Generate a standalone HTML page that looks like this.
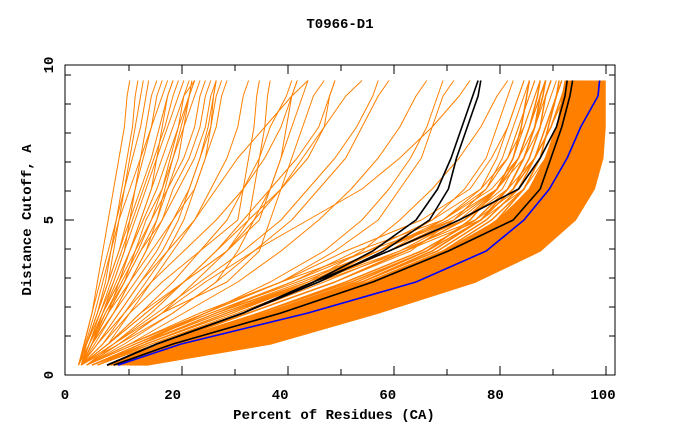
<!DOCTYPE html>
<html><head><meta charset="utf-8"><style>
body{margin:0;background:#fff}
svg{display:block}
text{font-family:"Liberation Mono",monospace;font-weight:bold;font-size:14px;fill:#000}
</style></head><body>
<svg id="chart" width="680" height="440">
<text x="340" y="28" text-anchor="middle">T0966-D1</text>
<text x="334" y="419" text-anchor="middle">Percent of Residues (CA)</text>
<text transform="translate(31,220) rotate(-90)" text-anchor="middle">Distance Cutoff, A</text>
<g id="plot"></g>
</svg>
<script>
const levels=[0.32,1,2,3,4,5,6,7,8,9,9.5];
const xTicks=[0,20,40,60,80,100];
const yTicks=[0,5,10];
const bandLowerEdge=[15,38,58,76,88,94.5,98,99.6,100,100,100];
const bandUpperEdge=[8,19,38,56,70,80,86,89,91,92,92.5];
const orangeCurves=[
[15,38,58,76,88,94.5,98,99.6,100,100,100],
[10.3,23,46.2,66.1,79,86,90.5,93.7,96,98.8,99.1],[10.8,24.6,47.4,67.2,80,86.9,91.4,94.3,96.4,99,99.2],
[11.4,26.2,48.6,68.3,81,87.9,92.2,95,96.9,99.1,99.3],[11.9,27.7,49.8,69.4,82,88.8,93,95.6,97.3,99.2,99.4],
[12.4,29.3,51,70.5,83,89.8,93.9,96.3,97.8,99.4,99.5],[12.9,30.8,52.2,71.6,84,90.7,94.7,97,98.2,99.5,99.6],
[13.4,32.4,53.4,72.7,85,91.7,95.5,97.6,98.7,99.6,99.7],[14,34,54.6,73.8,86,92.6,96.3,98.3,99.1,99.7,99.8],
[14.5,35.5,55.8,74.9,87,93.6,97.2,98.9,99.6,99.9,99.9],
[9.5,21,43,62,75,83,88,91.5,94,96,97],[9,20,41,60,73,82,87,90.5,93,95,96],
[9,20,40,58,71,80.5,86,89,91,93,94],[9.5,21,42,60,73,82,86.5,89.5,92,94,95],
[9,21,42,61,74,83,87.5,91,93.5,95.5,96.5],[8.5,20,41,59,72,81,86,89.5,92.5,94.5,95.5],
[9,20,38,55,68,77,83,86,88,89,90],[8,19,36,52,66,76,82,85,87,88,89],[8,18,34,50,63,74,80,84,86,87.5,88],
[10,20,40,58,72,80,85,88,89.5,91,91.5],[9,19,37,54,67,75,80,83,84.5,85.5,86],
[8,18,36,53,67,77,83,87,90,92,93],[8.5,19,38,56,70,79,85,88,91,93,94.5],
[8,19,37,55,69,78,84,87,89,91,92],[8.5,19,38,55,68,77,82,85,87,88.5,89],
[5,14,29,46,62,76,84,88,91,93,94],[5,14,28,45,60,74,82,87,90,92.5,93.5],
[5,15,30,47,63,77,85,89,92,94,95],[5,14,28,44,58,71,80,85,88,90,91],
[5,15,30,45,55,62,68,73,77,80,82],[5,16,32,47,60,70,77,80,82,84,85],[6,17,34,50,64,72,78,81,83,85,86],
[4,13,26,40,52,66,75,79,82,84,85],[5,14,28,42,54,70,78,82,84,86,87],[6,15,30,46,60,74,81,84,86,88,89],
[5,15,31,46,58,68,74,78,80,82,83],[6,16,33,48,62,73,80,83,85,87,88],
[4,12,26,40,56,72,80,84,86,88,89],[4,13,27,43,58,72,78,82,84,86,87],
[5,14,29,45,58,70,79,84,87,89,90],[5,15,31,46,60,72,80,84,86,88,89],[4,13,27,42,56,68,77,82,85,87,88],
[4,10,18,26,35,45,55,62,68,73,75],[4,12,22,32,40,47,53,58,62,65,67],[3,10,18,24,30,35,40,44,48,52,55],
[4,11,20,28,35,42,47,52,55,58,60],[4,12,25,40,50,58,62,66,68,70,72],[5,14,26,38,48,55,60,64,67,69,70],
[3,8,14,20,25,30,33,36,38,41,42],[3,9,16,22,28,34,40,45,48,49,50],[3,8,12,16,20,24,28,32,37,42,45],
[3,7,11,16,22,28,33,37,40,42,43],[3,9,18,30,36,38,40,42,44,46,48],[3,8,15,22,30,36,38,40,41,42,43],
[3,8,14,22,30,34,35,36,37,37.5,38],[3,7,12,18,25,32,33,34,35,35.5,36],[3,6,10,14,19,24,27,30,32,33,34],
[3,8,15,22,28,33,38,43,47,49,50],[4,10,20,28,32,35,38,40,42,44,45],[4,9,17,25,33,40,45,50,54,57,58],
[2.5,4,6,8,9,10,11,12,13,14,14.5],[2.5,4.5,7,9,11,13,15,17,19,21,22],[3,5,8,11,13,15,18,20,22,24,25],
[3,5.5,9,12,15,18,20,23,25,26,27],[2.5,3.5,5,6,7,8,9,10,11,11.5,12],[3,4,6,7.5,8.5,9.5,10.5,11.5,12.5,13,13.5],
[3,5,7,10,12,14,16,18,20,22,24],[3,4.5,7,10,13,16,19,22,24,25,26],[3,5,8,11,14,18,21,24,26,27,28],
[2.5,4,6.5,9,11,12,13,14,15,16,17],[3,5,8,10,12,14,16,17,18,19,20],[3,4.5,7.5,11,14,17,19,21,22,23,24],
[3,5,9,13,17,20,23,25,27,28,29],[3,6,11,15,19,22,24,26,28,29,30],[3,5,8,12,16,20,24,26,27,27.5,28],
[2.5,4,6,8,10,11.5,13,14.5,16,17,18],[3,4.5,7,9.5,12,14.5,17,19,21,23,23.5],[3,5,7.5,10.5,13.5,16,18,19.5,21,22,23],
[3,6,10,14,18,21,23,25,26.5,27.5,28],[2.5,3.8,5.5,7,8.5,10,12,14,16,18,19],[3,5,9,12,15,17,18.5,20,21.5,23,24],
[2.5,4,6,8,10,12,14,16,17.5,19,20],[3,4.5,6.5,8.5,10.5,12.5,14.5,16.5,18.5,20,21],[2.5,3.6,5,6.5,8,9.5,11,12.5,14,15,15.5]
];
const blackCurves=[
[7.8,17,33,46,60,73,84,88,91,92.6,93],[9,20,40,57,71,83,88,90,92,93.5,94],
[7.8,17,33,46,57,65,69,71.5,73.5,75.5,76.5],[7.8,17,33,47,59,67.5,71,72.5,74.5,76.5,77]
];
const blueCurve=[9.8,21.5,45,65,78,85,89.7,93,95.5,98.7,99];

const NS="http://www.w3.org/2000/svg";
const L=65,R=615,T=65,B=375;
const xs=v=>65+v*5.4;
const ys=v=>375-v*31;
const svg=document.getElementById('plot');
function mk(tag,at){const e=document.createElementNS(NS,tag);for(const k in at)e.setAttribute(k,at[k]);svg.appendChild(e);return e;}
function curve(arr,color,w,name){
  const d=arr.map((x,i)=>(i?'L':'M')+xs(x).toFixed(1)+','+ys(levels[i]).toFixed(1)).join(' ');
  const p=mk('path',{d:d,fill:'none',stroke:color,'stroke-width':w,'stroke-linejoin':'round'});
  
  
}
function bandPoly(a,b){
  return a.map((x,i)=>xs(x).toFixed(1)+','+ys(levels[i]).toFixed(1))
   .concat(b.map((x,i)=>xs(x).toFixed(1)+','+ys(levels[i]).toFixed(1)).reverse()).join(' ');
}
const band=mk('polygon',{points:bandPoly(blueCurve,bandLowerEdge),fill:'#ff8000',stroke:'none'});


const band2=mk('polygon',{points:bandPoly(bandUpperEdge,blueCurve),fill:'#ff8000',stroke:'none'});


orangeCurves.forEach((c,i)=>curve(c,'#ff8000',i<25?1.5:1,'model-curve-'+i));
blackCurves.forEach((c,i)=>curve(c,'#000',1.6,'highlight-curve-'+i));
curve(blueCurve,'#0000ff',1.6,'best-model-curve');
const frame=mk('rect',{x:L,y:T,width:R-L,height:B-T,fill:'none',stroke:'#000','stroke-width':1});


for(let k=1;k<=10;k++){
  const px=76+53*k;
  const len=(k%2===0)?9:6;
  mk('line',{x1:px,x2:px,y1:B,y2:B-len,stroke:'#000'});
  mk('line',{x1:px,x2:px,y1:T,y2:T+len,stroke:'#000'});
}
for(let k=-5;k<=4;k++){
  const py=220+29*k;
  const len=(k===0)?9:6;
  mk('line',{x1:L,x2:L+len,y1:py,y2:py,stroke:'#000'});
  mk('line',{x1:R,x2:R-len,y1:py,y2:py,stroke:'#000'});
}
xTicks.forEach(v=>{
  const t=mk('text',{x:65+v*5.38,y:399,'text-anchor':'middle'});t.textContent=v;
  
  
});
yTicks.forEach(v=>{
  const t=mk('text',{transform:'translate(53,'+ys(v)+') rotate(-90)','text-anchor':'middle'});t.textContent=v;
  
  
});
</script>
</body></html>
